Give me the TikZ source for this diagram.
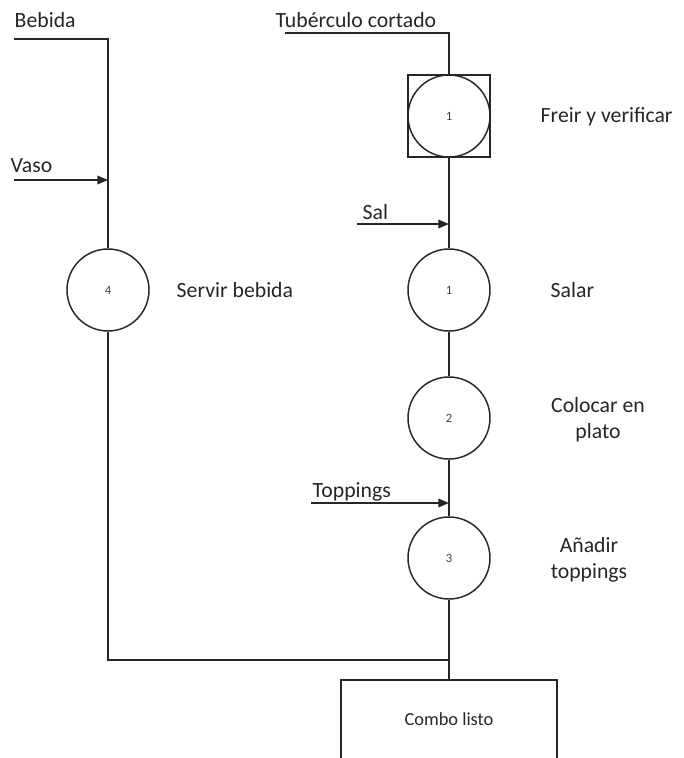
\documentclass[tikz,border=0pt]{standalone}
\usepackage{fontspec}
\setmainfont{Carlito}
\usetikzlibrary{arrows.meta}
\begin{document}
\begin{tikzpicture}[x=0.75pt,y=-0.75pt,
  line width=1.1pt, draw=black!85,
  op/.style={circle,draw,line width=1.1pt,minimum size=61.5pt,inner sep=0pt,font=\fontsize{9.5}{10}\selectfont,text=black!75},
  lbl/.style={inner sep=0pt,font=\fontsize{16.3}{19.5}\selectfont,text=black!85},
  flow/.style={line width=1.1pt},
  inarrow/.style={line width=1.1pt,-{Triangle[length=8pt,width=6.5pt]}}]
\useasboundingbox (0,0) rectangle (684,758);
\clip (0,0) rectangle (684,758);
% operations
\node[op] (f1) at (449,116) {1};
\node[draw,line width=0.9pt,rectangle,minimum size=61.5pt,inner sep=0pt] (sq) at (449,116) {};
\node[op] (s1) at (449,290) {1};
\node[op] (s2) at (449,418) {2};
\node[op] (s3) at (449,558) {3};
\node[op] (c4) at (108,290) {4};
% final box
\node[draw,line width=1.1pt,rectangle,minimum width=162pt,minimum height=75pt,inner sep=0pt] (box) at (449,730) {};
\node[inner sep=0pt,font=\fontsize{13.8}{15}\selectfont,text=black!85] (combo) at (449,719) {Combo listo};
% labels
\node[lbl,anchor=west] (tbebida) at (14,20) {Bebida};
\node[lbl,anchor=west] (tvaso) at (10,166) {Vaso};
\node[lbl,anchor=west] (ttub) at (275,20) {Tubérculo cortado};
\node[lbl,anchor=west] (tsal) at (362,212) {Sal};
\node[lbl,anchor=west] (ttop) at (312,492) {Toppings};
\node[lbl,anchor=west] (lfreir) at (540,117) {Freir y verificar};
\node[lbl,anchor=west] (lservir) at (176,290) {Servir bebida};
\node[lbl,anchor=west] (lsalar) at (550,290) {Salar};
\node[lbl,align=center] (lcolocar) at (598,420) {Colocar en\\plato};
\node[lbl,align=center] (lanadir) at (589,560) {Añadir\\toppings};
% coordinates
\coordinate (bstart) at (14,39);
\coordinate (bcorner) at (108,39);
\coordinate (vstart) at (14,180);
\coordinate (vend) at (108,180);
\coordinate (tstart) at (285,33);
\coordinate (tcorner) at (449,33);
\coordinate (sstart) at (357,224);
\coordinate (send) at (449,224);
\coordinate (pstart) at (311,503);
\coordinate (pend) at (449,503);
\coordinate (jleft) at (108,660);
\coordinate (jmid) at (449,660);
% flows
\draw[flow] (bstart) -- (bcorner) -- (c4.north);
\draw[inarrow] (vstart) -- (vend);
\draw[flow] (tstart) -- (tcorner) -- (sq.north);
\draw[flow] (sq.south) -- (s1.north);
\draw[inarrow] (sstart) -- (send);
\draw[flow] (s1.south) -- (s2.north);
\draw[flow] (s2.south) -- (s3.north);
\draw[inarrow] (pstart) -- (pend);
\draw[flow] (c4.south) -- (jleft) -- (jmid);
\draw[flow] (s3.south) -- (box.north);
\end{tikzpicture}
\end{document}
